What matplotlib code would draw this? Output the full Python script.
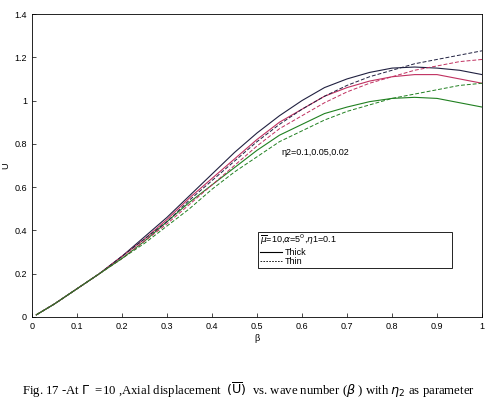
import matplotlib
matplotlib.use("Agg")
import matplotlib.pyplot as plt
from matplotlib.lines import Line2D

plt.rcParams['font.family'] = ['Liberation Sans', 'DejaVu Sans']

# wave number
beta = [0.01, 0.05, 0.1, 0.15, 0.2, 0.25, 0.3, 0.35, 0.4, 0.45, 0.5,
        0.55, 0.6, 0.65, 0.7, 0.75, 0.8, 0.85, 0.9, 0.95, 1.0]

# thick model, eta2 = 0.1, 0.05, 0.02
thick_1 = [0.01, 0.06, 0.13, 0.20, 0.28, 0.37, 0.46, 0.56, 0.66, 0.76, 0.85,
           0.93, 1.00, 1.06, 1.10, 1.13, 1.15, 1.155, 1.15, 1.14, 1.12]
thick_2 = [0.01, 0.06, 0.13, 0.20, 0.28, 0.36, 0.45, 0.55, 0.64, 0.73, 0.82,
           0.90, 0.96, 1.02, 1.06, 1.09, 1.11, 1.12, 1.12, 1.10, 1.08]
thick_3 = [0.01, 0.06, 0.13, 0.20, 0.27, 0.35, 0.44, 0.53, 0.61, 0.69, 0.77,
           0.84, 0.89, 0.94, 0.97, 0.995, 1.01, 1.015, 1.01, 0.99, 0.97]

# thin model
thin_1 = [0.01, 0.06, 0.13, 0.20, 0.28, 0.36, 0.44, 0.54, 0.63, 0.72, 0.81,
          0.89, 0.96, 1.02, 1.07, 1.11, 1.14, 1.17, 1.19, 1.21, 1.23]
thin_2 = [0.01, 0.06, 0.13, 0.20, 0.27, 0.35, 0.43, 0.52, 0.61, 0.70, 0.79,
          0.87, 0.93, 0.99, 1.04, 1.08, 1.11, 1.14, 1.16, 1.18, 1.19]
thin_3 = [0.01, 0.06, 0.13, 0.20, 0.27, 0.34, 0.42, 0.50, 0.59, 0.67, 0.74,
          0.81, 0.86, 0.91, 0.95, 0.98, 1.01, 1.03, 1.05, 1.07, 1.08]

fig = plt.figure(figsize=(4.97, 4.0), dpi=100)
ax = fig.add_axes([0.064, 0.2075, 0.906, 0.7575])

ax.plot(beta, thick_1, color="#202040", lw=0.8)
ax.plot(beta, thick_2, color="#c03060", lw=0.8)
ax.plot(beta, thick_3, color="#208020", lw=0.8)
ax.plot(beta, thin_1, color="#202040", lw=0.7, ls=(0, (4, 2)))
ax.plot(beta, thin_2, color="#c03060", lw=0.7, ls=(0, (4, 2)))
ax.plot(beta, thin_3, color="#208020", lw=0.7, ls=(0, (4, 2)))

ax.set_xlim(0, 1)
ax.set_ylim(0, 1.4)
ax.set_xticks([0, 0.1, 0.2, 0.3, 0.4, 0.5, 0.6, 0.7, 0.8, 0.9, 1])
ax.set_xticklabels(["0", "0.1", "0.2", "0.3", "0.4", "0.5", "0.6", "0.7", "0.8", "0.9", "1"])
ax.set_yticks([0, 0.2, 0.4, 0.6, 0.8, 1, 1.2, 1.4])
ax.set_yticklabels(["0", "0.2", "0.4", "0.6", "0.8", "1", "1.2", "1.4"])
ax.tick_params(labelsize=6.5, direction="in", length=3, width=0.5)
for s in ax.spines.values():
    s.set_linewidth(0.6)
ax.set_xlabel("β", fontsize=6.5, labelpad=2)
ax.set_ylabel("U", fontsize=6.5, labelpad=3)

ax.text(0.555, 0.75, "η2=0.1,0.05,0.02", fontsize=6.5)

handles = [Line2D([], [], color="black", lw=0.8),
           Line2D([], [], color="black", lw=0.6, ls=(0, (2, 1.5)))]
labels = ["Thick", "Thin"]
leg = ax.legend(handles, labels, loc="lower left", bbox_to_anchor=(0.503, 0.161, 0.43, 0.1),
                mode="expand", fontsize=6.5, handlelength=2.4, handletextpad=0.3,
                borderpad=0.2, labelspacing=0.0, borderaxespad=0, fancybox=False, framealpha=1,
                title=r"$\overline{\mu}$=10,$\alpha$=5$^0$,$\eta$1=0.1", title_fontsize=6.5,
                alignment="left")
leg.get_frame().set_edgecolor("black")
leg.get_frame().set_linewidth(0.6)

fig.text(0.5, 0.012, r"Fig. 17 -At $\Gamma$  =10 ,Axial displacement  $(\overline{\mathrm{U}})$  vs. wave number ($\beta$ ) with $\eta_2$ as parameter",
         ha="center", fontsize=9.2, family="Liberation Serif")

fig.savefig("out.png", dpi=100)
